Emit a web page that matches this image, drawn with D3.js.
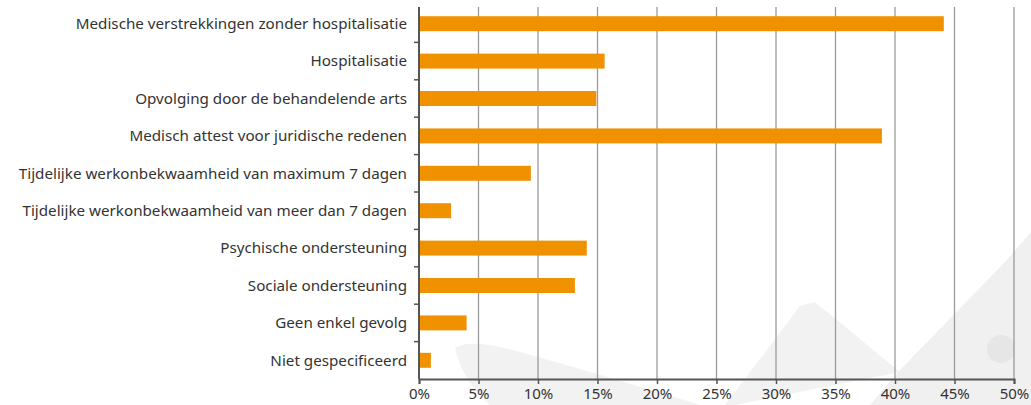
<!DOCTYPE html>
<html>
<head>
<meta charset="utf-8">
<script src="https://cdn.jsdelivr.net/npm/d3@7"></script>
<style>
  body { margin: 0; background: #fff; }
  svg text { font-family: "Noto Sans", "Open Sans", sans-serif; fill: #333; }
</style>
</head>
<body>
<div id="chart"></div>
<script>
// categories and percentages
const categories = [
  "Medische verstrekkingen zonder hospitalisatie",
  "Hospitalisatie",
  "Opvolging door de behandelende arts",
  "Medisch attest voor juridische redenen",
  "Tijdelijke werkonbekwaamheid van maximum 7 dagen",
  "Tijdelijke werkonbekwaamheid van meer dan 7 dagen",
  "Psychische ondersteuning",
  "Sociale ondersteuning",
  "Geen enkel gevolg",
  "Niet gespecificeerd"
];
const values = [44.1, 15.6, 14.9, 38.9, 9.4, 2.7, 14.1, 13.1, 4.0, 1.0];
const xTicks = [0, 5, 10, 15, 20, 25, 30, 35, 40, 45, 50];

const width = 1031, height = 405;
const margin = { top: 5, right: 17, bottom: 26, left: 419 };

const svg = d3.select("#chart").append("svg")
  .attr("width", width)
  .attr("height", height);

// faint decorative shapes in the background
const deco = svg.append("g").attr("fill", "#f2f2f2");
deco.append("path")
  .attr("d", "M455,348 Q470,338 520,352 Q620,380 700,405 L490,405 Q462,380 455,348 Z");
deco.append("path")
  .attr("d", "M800,306 L815,302 L900,372 L735,405 L725,405 Z");
deco.append("path")
  .attr("d", "M900,370 L1005,262 L1031,232 L1031,405 L870,405 Z")
  .attr("fill", "#f0f0f0");
deco.append("circle").attr("cx", 1001).attr("cy", 349).attr("r", 14).attr("fill", "#e6e6e6");

const x = d3.scaleLinear()
  .domain([0, 50])
  .range([margin.left, width - margin.right]);

const y = d3.scaleBand()
  .domain(categories)
  .range([margin.top, height - margin.bottom])
  .paddingInner(0.6)
  .paddingOuter(0.3);

// vertical gridlines
svg.append("g")
  .selectAll("line")
  .data(xTicks.slice(1))
  .join("line")
  .attr("x1", d => x(d))
  .attr("x2", d => x(d))
  .attr("y1", margin.top + 2)
  .attr("y2", height - margin.bottom)
  .attr("stroke", "#9a9a9a")
  .attr("stroke-width", 1.3);

// bars
svg.append("g")
  .selectAll("rect")
  .data(values)
  .join("rect")
  .attr("x", x(0))
  .attr("y", (d, i) => y(categories[i]))
  .attr("width", d => x(d) - x(0))
  .attr("height", y.bandwidth())
  .attr("fill", "#f09100");

// x axis
const xAxis = svg.append("g")
  .attr("transform", `translate(0,${height - margin.bottom})`)
  .call(d3.axisBottom(x).tickValues(xTicks).tickFormat(d => d + "%").tickSize(5).tickPadding(4));
xAxis.select(".domain").attr("stroke", "#555").attr("stroke-width", 2);
xAxis.selectAll(".tick line").attr("stroke", "#555").attr("stroke-width", 1.5);
xAxis.selectAll("text").attr("font-size", 15).attr("fill", "#333");

// y axis line with ticks between categories
const step = y.step();
const yLine = svg.append("g");
yLine.append("line")
  .attr("x1", x(0)).attr("x2", x(0))
  .attr("y1", margin.top + 2).attr("y2", height - margin.bottom)
  .attr("stroke", "#555").attr("stroke-width", 2);
yLine.selectAll(".sep")
  .data(categories.slice(1))
  .join("line")
  .attr("class", "sep")
  .attr("x1", x(0) - 5).attr("x2", x(0))
  .attr("y1", d => y(d) - (step - y.bandwidth()) / 2)
  .attr("y2", d => y(d) - (step - y.bandwidth()) / 2)
  .attr("stroke", "#555").attr("stroke-width", 1.5);

// category labels
svg.append("g")
  .selectAll("text")
  .data(categories)
  .join("text")
  .attr("x", x(0) - 12)
  .attr("y", d => y(d) + y.bandwidth() / 2)
  .attr("dy", "0.35em")
  .attr("text-anchor", "end")
  .attr("font-size", 15.2)
  .text(d => d);
</script>
</body>
</html>
